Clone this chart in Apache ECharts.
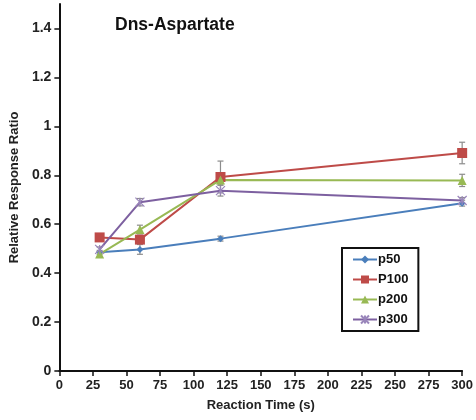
<!DOCTYPE html>
<html>
<head>
<meta charset="utf-8">
<script src="https://cdn.jsdelivr.net/npm/echarts@6/dist/echarts.min.js"></script>
<style>
  html, body { margin: 0; padding: 0; background: #fff; }
  #chart { width: 476px; height: 420px; }
</style>
</head>
<body>
<div id="chart"></div>
<script>
// Reaction times (s)
const times = [30, 60, 120, 300];
// Mean relative response ratios per series
const p50 = [0.485, 0.497, 0.541, 0.686];
const p100 = [0.546, 0.537, 0.793, 0.891];
const p200 = [0.478, 0.578, 0.781, 0.779];
const p300 = [0.497, 0.690, 0.737, 0.697];
// Standard deviations (error bars)
const p50Err = [0.008, 0.02, 0.01, 0.012];
const p100Err = [0.01, 0.012, 0.065, 0.044];
const p200Err = [0.01, 0.018, 0.02, 0.025];
const p300Err = [0.01, 0.015, 0.022, 0.012];
const seriesNames = ['p50', 'P100', 'p200', 'p300'];
const yTicks = [0, 0.2, 0.4, 0.6, 0.8, 1, 1.2, 1.4];

const colors = ['#4a7ebb', '#be4b48', '#98b954', '#7d60a0'];
const symbols = [
  'diamond',
  'rect',
  'triangle',
  'path://M0,0 L2,2 M2,0 L0,2 M1,0 L1,2'
];
const sizes = [7, 10, 9, 9];
const values = [p50, p100, p200, p300];
const errs = [p50Err, p100Err, p200Err, p300Err];

const chart = echarts.init(document.getElementById('chart'));

const lineSeries = seriesNames.map((name, i) => ({
  name: name,
  type: 'line',
  data: times.map((t, k) => [t, values[i][k]]),
  symbol: symbols[i],
  symbolSize: sizes[i],
  showAllSymbol: true,
  z: 3,
  lineStyle: { color: colors[i], width: 2 },
  itemStyle: i === 3
    ? { color: '#c9bfdc', borderColor: '#9a86bb', borderWidth: 1.2 }
    : { color: colors[i] },
  emphasis: { disabled: true }
}));

// Error bars drawn as vertical whiskers with caps
const errorSeries = seriesNames.map((name, i) => ({
  type: 'custom',
  name: name + ' error',
  z: 2,
  silent: true,
  data: times.map((t, k) => [t, values[i][k] - errs[i][k], values[i][k] + errs[i][k]]),
  renderItem: function (params, api) {
    const x = api.value(0);
    const lo = api.coord([x, api.value(1)]);
    const hi = api.coord([x, api.value(2)]);
    const w = 3;
    const style = { stroke: '#8c8c8c', lineWidth: 1.2 };
    return {
      type: 'group',
      children: [
        { type: 'line', shape: { x1: lo[0], y1: lo[1], x2: hi[0], y2: hi[1] }, style: style },
        { type: 'line', shape: { x1: lo[0] - w, y1: lo[1], x2: lo[0] + w, y2: lo[1] }, style: style },
        { type: 'line', shape: { x1: hi[0] - w, y1: hi[1], x2: hi[0] + w, y2: hi[1] }, style: style }
      ]
    };
  }
}));

const axisFont = { fontFamily: 'Liberation Sans, Arial, sans-serif', fontWeight: 'bold', fontSize: 13, color: '#222' };

chart.setOption({
  animation: false,
  backgroundColor: '#fff',
  title: {
    text: 'Dns-Aspartate',
    left: 110,
    top: 11,
    textStyle: { fontFamily: 'Liberation Sans, Arial, sans-serif', fontWeight: 'bold', fontSize: 17.5, color: '#111' }
  },
  legend: {
    data: seriesNames,
    orient: 'vertical',
    left: 342,
    top: 248,
    borderColor: '#111',
    borderWidth: 2,
    padding: [5, 10, 5, 10],
    itemGap: 7,
    itemWidth: 24,
    itemHeight: 10,
    textStyle: { fontFamily: 'Liberation Sans, Arial, sans-serif', fontWeight: 'bold', fontSize: 13, color: '#111', padding: [0, 24, 0, -4] }
  },
  grid: { left: 58, right: 10, top: 4, bottom: 49, containLabel: false },
  xAxis: {
    type: 'value',
    min: 0,
    max: 300,
    interval: 25,
    name: 'Reaction Time (s)',
    nameLocation: 'middle',
    nameGap: 28,
    nameTextStyle: axisFont,
    axisLine: { show: true, lineStyle: { color: '#111', width: 2 } },
    axisTick: { show: true, length: 5, lineStyle: { color: '#111', width: 1.5 } },
    axisLabel: Object.assign({ margin: 8 }, axisFont),
    splitLine: { show: false }
  },
  yAxis: {
    type: 'value',
    min: 0,
    max: 1.5,
    interval: 0.1,
    name: 'Relative Response Ratio',
    nameLocation: 'middle',
    nameGap: 38,
    nameTextStyle: axisFont,
    axisLine: { show: true, lineStyle: { color: '#111', width: 2 } },
    axisTick: {
      show: true, length: 5, lineStyle: { color: '#111', width: 1.5 },
      customValues: yTicks
    },
    axisLabel: Object.assign({}, axisFont, {
      margin: 8,
      fontSize: 14,
      customValues: yTicks,
      formatter: v => (Math.round(v * 10) / 10).toString()
    }),
    splitLine: { show: false }
  },
  series: errorSeries.concat(lineSeries)
});
</script>
</body>
</html>
